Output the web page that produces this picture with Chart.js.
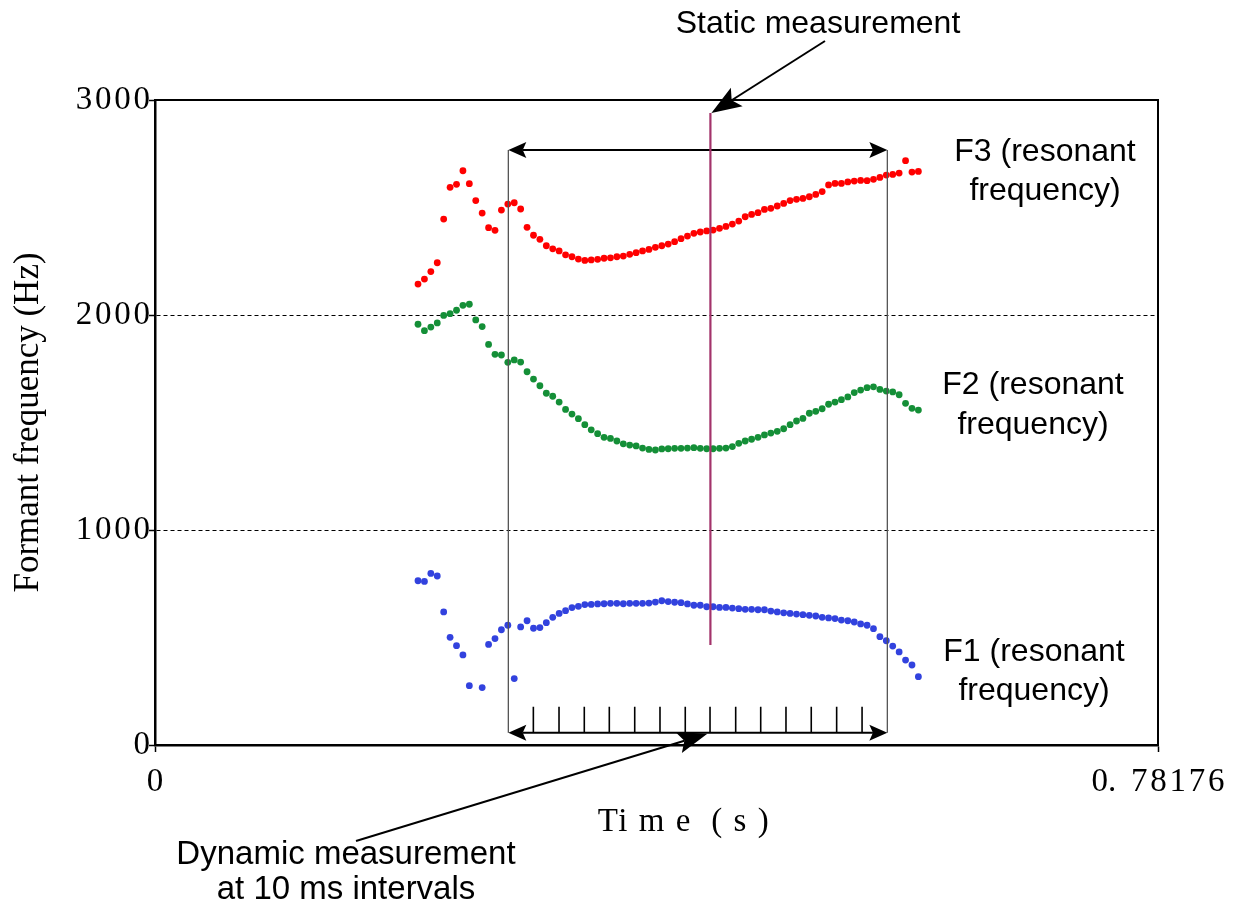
<!DOCTYPE html>
<html>
<head>
<meta charset="utf-8">
<script src="https://cdn.jsdelivr.net/npm/chart.js@4.4.1/dist/chart.umd.min.js"></script>
<style>
  html, body { margin: 0; padding: 0; background: #fff; }
  canvas { display: block; }
</style>
</head>
<body>
<canvas id="formant-chart" width="1244" height="907"></canvas>
<script>
//~~~~~~~~~~~~~~~~~~~~~~~~~~~~~~~~~~~~~~~~~~~~~~~~~~~~~~~~~~~~~~~~~~~~~~~~~
// DATA (one frame every 5 ms)
const times = [
  0.205, 0.210, 0.215, 0.220, 0.225, 0.230, 0.235, 0.240, 0.245, 0.250,
  0.255, 0.260, 0.265, 0.270, 0.275, 0.280, 0.285, 0.290, 0.295, 0.300,
  0.305, 0.310, 0.315, 0.320, 0.325, 0.330, 0.335, 0.340, 0.345, 0.350,
  0.355, 0.360, 0.365, 0.370, 0.375, 0.380, 0.385, 0.390, 0.395, 0.400,
  0.405, 0.410, 0.415, 0.420, 0.425, 0.430, 0.435, 0.440, 0.445, 0.450,
  0.455, 0.460, 0.465, 0.470, 0.475, 0.480, 0.485, 0.490, 0.495, 0.500,
  0.505, 0.510, 0.515, 0.520, 0.525, 0.530, 0.535, 0.540, 0.545, 0.550,
  0.555, 0.560, 0.565, 0.570, 0.575, 0.580, 0.585, 0.590, 0.595,
];

// F3 (red)
const f3 = [
  2144, 2167, 2202, 2243, 2446, 2594, 2608, 2671, 2611, 2532,
  2474, 2406, 2394, 2488, 2516, 2522, 2493, 2408, 2371, 2352,
  2322, 2308, 2298, 2280, 2271, 2260, 2254, 2256, 2259, 2264,
  2266, 2271, 2274, 2282, 2290, 2298, 2305, 2315, 2322, 2330,
  2341, 2355, 2367, 2380, 2386, 2391, 2395, 2403, 2412, 2423,
  2437, 2457, 2468, 2476, 2491, 2496, 2507, 2519, 2532, 2538,
  2542, 2550, 2561, 2574, 2605, 2612, 2612, 2619, 2623, 2626,
  2625, 2631, 2640, 2651, 2654, 2660, 2718, 2665, 2668,
];

// F2 (green)
const f2 = [
  1957, 1927, 1944, 1963, 1998, 2006, 2022, 2045, 2050, 1977,
  1946, 1863, 1817, 1814, 1780, 1791, 1781, 1736, 1702, 1671,
  1636, 1622, 1595, 1561, 1539, 1518, 1490, 1466, 1448, 1431,
  1426, 1414, 1401, 1395, 1391, 1381, 1375, 1372, 1377, 1378,
  1380, 1380, 1381, 1383, 1380, 1378, 1378, 1380, 1381, 1388,
  1403, 1414, 1422, 1431, 1442, 1451, 1459, 1471, 1490, 1507,
  1519, 1543, 1552, 1564, 1585, 1595, 1606, 1619, 1639, 1651,
  1662, 1666, 1654, 1646, 1642, 1629, 1589, 1566, 1558,
];

// F1 (blue), one frame has no value
const f1 = [
  764, 761, 798, 786, 619, 501, 462, 419, 276, null,
  267, 468, 495, 536, 557, 309, 549, 578, 543, 546,
  569, 594, 612, 625, 639, 645, 653, 654, 656, 657,
  659, 659, 657, 659, 659, 659, 660, 665, 671, 667,
  664, 662, 656, 650, 650, 643, 643, 640, 640, 637,
  634, 631, 631, 629, 629, 623, 619, 615, 612, 609,
  606, 603, 600, 594, 591, 588, 581, 578, 572, 563,
  557, 541, 504, 485, 460, 433, 395, 372, 318,
];

const yTickValues = [0, 1000, 2000, 3000];
const yTickLabels = ["0", "1\u200A0\u200A0\u200A0", "2\u200A0\u200A0\u200A0", "3\u200A0\u200A0\u200A0"];
const xTickValues = [0, 0.78176];
const xTickLabels = ["0", "0.\u2009 7\u200A8\u200A1\u200A7\u200A6"];

// bracket, static line and the 10 ms tick marks (s / Hz)
const bracketStart = 0.2754;
const bracketEnd = 0.5708;
const bracketTopHz = 2767;
const bracketBottomHz = 57;
const dynamicTicks = [
  0.2949, 0.3149, 0.3346, 0.3541, 0.3739, 0.3936, 0.4133,
  0.4326, 0.4526, 0.4721, 0.4918, 0.5115, 0.5313, 0.5511,
];
const dynamicTickTopHz = 178;
const staticTime = 0.4329;
const staticFromHz = 465;
const staticToHz = 2939;

//~~~~~~~~~~~~~~~~~~~~~~~~~~~~~~~~~~~~~~~~~~~~~~~~~~~~~~~~~~~~~~~~~~~~~~~~~
const serif = "'Liberation Serif', 'Times New Roman', serif";
const sans = "'Liberation Sans', Arial, sans-serif";

const toPoints = (values) =>
  times
    .map((t, i) => (values[i] === null ? null : { x: t, y: values[i] }))
    .filter((p) => p !== null);

// filled arrow head with a small notch, returns the notch point
const arrowHead = (ctx, fromX, fromY, tipX, tipY, len, half) => {
  const ang = Math.atan2(tipY - fromY, tipX - fromX);
  const cos = Math.cos(ang);
  const sin = Math.sin(ang);
  const bx = tipX - len * cos;
  const by = tipY - len * sin;
  const nx = tipX - len * 0.8 * cos;
  const ny = tipY - len * 0.8 * sin;
  ctx.beginPath();
  ctx.moveTo(tipX, tipY);
  ctx.lineTo(bx - half * sin, by + half * cos);
  ctx.lineTo(nx, ny);
  ctx.lineTo(bx + half * sin, by - half * cos);
  ctx.closePath();
  ctx.fill();
  return [nx, ny];
};

const arrow = (ctx, x1, y1, x2, y2, len, half) => {
  const [nx, ny] = arrowHead(ctx, x1, y1, x2, y2, len, half);
  ctx.beginPath();
  ctx.moveTo(x1, y1);
  ctx.lineTo(nx, ny);
  ctx.stroke();
};

const doubleArrow = (ctx, x1, y, x2, len, half) => {
  const [ax] = arrowHead(ctx, x2, y, x1, y, len, half);
  const [bx] = arrowHead(ctx, x1, y, x2, y, len, half);
  ctx.beginPath();
  ctx.moveTo(ax, y);
  ctx.lineTo(bx, y);
  ctx.stroke();
};

const annotations = {
  id: "annotations",
  afterDraw(chart) {
    const { ctx, chartArea: a } = chart;
    const x = chart.scales.x;
    const y = chart.scales.y;
    ctx.save();

    // top and right frame
    ctx.strokeStyle = "#000";
    ctx.lineWidth = 2;
    ctx.beginPath();
    ctx.moveTo(a.left, a.top);
    ctx.lineTo(a.right, a.top);
    ctx.lineTo(a.right, a.bottom);
    ctx.stroke();

    // bracket around the dynamic part
    const xs = x.getPixelForValue(bracketStart);
    const xe = x.getPixelForValue(bracketEnd);
    const yt = y.getPixelForValue(bracketTopHz);
    const yb = y.getPixelForValue(bracketBottomHz);
    ctx.strokeStyle = "#555";
    ctx.lineWidth = 1.3;
    ctx.beginPath();
    ctx.moveTo(xs, yt);
    ctx.lineTo(xs, yb);
    ctx.moveTo(xe, yt);
    ctx.lineTo(xe, yb);
    ctx.stroke();

    ctx.strokeStyle = "#000";
    ctx.fillStyle = "#000";
    ctx.lineWidth = 2;
    doubleArrow(ctx, xs, yt, xe, 18, 8);
    doubleArrow(ctx, xs, yb, xe, 18, 8);

    // 10 ms tick marks
    const ytt = y.getPixelForValue(dynamicTickTopHz);
    ctx.lineWidth = 1.6;
    ctx.beginPath();
    dynamicTicks.forEach((t) => {
      const px = x.getPixelForValue(t);
      ctx.moveTo(px, ytt);
      ctx.lineTo(px, yb);
    });
    ctx.stroke();

    // static measurement line
    const sx = x.getPixelForValue(staticTime);
    const sTop = y.getPixelForValue(staticToHz);
    ctx.strokeStyle = "#a3336b";
    ctx.lineWidth = 2.2;
    ctx.beginPath();
    ctx.moveTo(sx, y.getPixelForValue(staticFromHz));
    ctx.lineTo(sx, sTop);
    ctx.stroke();

    // pointer arrows
    ctx.strokeStyle = "#000";
    ctx.lineWidth = 2;
    arrow(ctx, 825, 41, sx + 1, sTop, 30, 11);
    arrow(ctx, 356, 841, x.getPixelForValue(0.4305), yb + 1, 30, 11);

    // labels
    ctx.fillStyle = "#000";
    ctx.textAlign = "center";
    ctx.textBaseline = "alphabetic";
    ctx.font = "32px " + sans;
    ctx.fillText("Static measurement", 818, 33);
    ctx.fillText("F3 (resonant", 1045, 161);
    ctx.fillText("frequency)", 1045, 200);
    ctx.fillText("F2 (resonant", 1033, 394);
    ctx.fillText("frequency)", 1033, 434);
    ctx.fillText("F1 (resonant", 1034, 661);
    ctx.fillText("frequency)", 1034, 700);
    ctx.font = "33px " + sans;
    ctx.fillText("Dynamic measurement", 346, 864);
    ctx.fillText("at 10 ms intervals", 346, 899);

    // x axis title, spaced out as in the original
    ctx.font = "33px " + serif;
    ctx.letterSpacing = "1.5px";
    ctx.fillText("Ti m e  ( s )", 684, 831);
    ctx.letterSpacing = "0px";

    ctx.restore();
  },
};

//~~~~~~~~~~~~~~~~~~~~~~~~~~~~~~~~~~~~~~~~~~~~~~~~~~~~~~~~~~~~~~~~~~~~~~~~~
// CHART
const pointStyle = (color) => ({
  backgroundColor: color,
  borderWidth: 0,
  pointRadius: 3.4,
  pointHoverRadius: 3.4,
  showLine: false,
});

const config = {
  type: "scatter",
  data: {
    datasets: [
      { label: "F3", data: toPoints(f3), ...pointStyle("#ff0000") },
      { label: "F2", data: toPoints(f2), ...pointStyle("#148f37") },
      { label: "F1", data: toPoints(f1), ...pointStyle("#3242de") },
    ],
  },
  options: {
    responsive: false,
    animation: false,
    layout: { padding: { left: 0, top: 100, right: 86, bottom: 0 } },
    plugins: {
      legend: { display: false },
      tooltip: { enabled: false },
    },
    scales: {
      x: {
        type: "linear",
        min: 0,
        max: 0.78176,
        afterBuildTicks: (scale) => {
          scale.ticks = xTickValues.map((v) => ({ value: v }));
        },
        afterFit: (scale) => {
          scale.height = 162;
        },
        ticks: {
          callback: (value, index) => xTickLabels[index],
          autoSkip: false,
          maxRotation: 0,
          padding: 11,
          color: "#000",
          font: { family: serif, size: 33 },
        },
        grid: {
          drawOnChartArea: false,
          tickLength: 7,
          tickColor: "#000",
          tickWidth: 1.5,
        },
        border: { color: "#000", width: 2.5 },
      },
      y: {
        min: 0,
        max: 3000,
        afterBuildTicks: (scale) => {
          scale.ticks = yTickValues.map((v) => ({ value: v }));
        },
        afterFit: (scale) => {
          scale.width = 155;
        },
        ticks: {
          callback: (value, index) => yTickLabels[index],
          padding: -1,
          color: "#000",
          font: { family: serif, size: 33 },
        },
        grid: {
          color: (c) =>
            c.tick && c.tick.value > 0 && c.tick.value < 3000 ? "#000" : "rgba(0,0,0,0)",
          lineWidth: 1,
          tickLength: 6,
          tickColor: "#000",
          tickWidth: 1.5,
        },
        border: { color: "#000", width: 2.5, dash: [4, 3] },
        title: {
          display: true,
          text: "Formant frequency (Hz)",
          color: "#000",
          font: { family: serif, size: 35 },
          padding: { top: 8, bottom: 0 },
        },
      },
    },
  },
  plugins: [annotations],
};

const formantChart = new Chart(document.getElementById("formant-chart"), config);
</script>
</body>
</html>
